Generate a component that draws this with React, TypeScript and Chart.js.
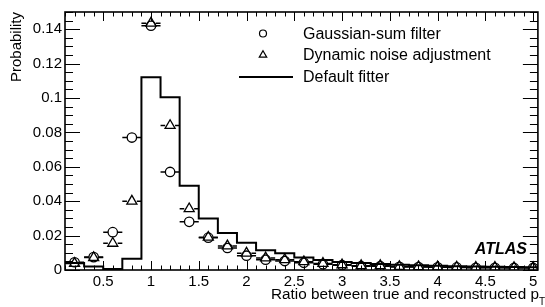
import React, { useEffect, useRef } from 'react';
import { Chart, registerables } from 'chart.js';

Chart.register(...registerables);

// ---- data ----
const binCenters = [0.2, 0.4, 0.6, 0.8, 1.0, 1.2, 1.4, 1.6, 1.8, 2.0, 2.2, 2.4, 2.6, 2.8, 3.0, 3.2, 3.4, 3.6, 3.8, 4.0, 4.2, 4.4, 4.6, 4.8, 5.0];
const gaussianSumValues = [0.0045, 0.0075, 0.022, 0.077, 0.142, 0.057, 0.028, 0.0188, 0.0128, 0.0083, 0.0060, 0.0052, 0.0042, 0.0033, 0.0028, 0.0022, 0.0022, 0.0018, 0.0017, 0.0016, 0.0015, 0.0013, 0.0013, 0.0012, 0.0012];
const dynamicNoiseValues = [0.0038, 0.0072, 0.0155, 0.040, 0.1435, 0.084, 0.0356, 0.019, 0.014, 0.0098, 0.0070, 0.0060, 0.0048, 0.0038, 0.0030, 0.0025, 0.0025, 0.0020, 0.0019, 0.0018, 0.0017, 0.0015, 0.0015, 0.0014, 0.0014];
const binEdges = [0.1, 0.3, 0.5, 0.7, 0.9, 1.1, 1.3, 1.5, 1.7, 1.9, 2.1, 2.3, 2.5, 2.7, 2.9, 3.1, 3.3, 3.5, 3.7, 3.9, 4.1, 4.3, 4.5, 4.7, 4.9, 5.1];
const defaultFitterValues = [0.004, 0.002, 0.0006, 0.0065, 0.112, 0.1005, 0.049, 0.030, 0.0215, 0.0158, 0.0115, 0.0097, 0.0072, 0.0058, 0.0046, 0.0040, 0.0035, 0.0030, 0.0027, 0.0025, 0.0022, 0.0020, 0.0019, 0.0017, 0.0016];
const xTickValues = [0.5, 1, 1.5, 2, 2.5, 3, 3.5, 4, 4.5, 5];
const xTickLabels = ['0.5', '1', '1.5', '2', '2.5', '3', '3.5', '4', '4.5', '5'];
const yTickValues = [0, 0.02, 0.04, 0.06, 0.08, 0.1, 0.12, 0.14];
const yTickLabels = ['0', '0.02', '0.04', '0.06', '0.08', '0.1', '0.12', '0.14'];
const seriesNames = ['Gaussian-sum filter', 'Dynamic noise adjustment', 'Default fitter'];
const xTitle = 'Ratio between true and reconstructed p';
const xTitleSub = 'T';
const yTitle = 'Probability';
const experimentLabel = 'ATLAS';

const FONT = '"Liberation Sans", Arial, Helvetica, sans-serif';
const BIN_HALF = 0.1;
const CIRCLE_R = 4.7;
const TRI_R = 5.8;
const PLOT_LEFT = 65;
const RIGHT_GAP = 1;
const NO_PAD = () => ({ left: 0, top: 0, right: 0, bottom: 0 });

const framePlugin = {
  id: 'rootFrame',
  beforeDatasetsDraw(chart: any) {
    const { ctx, scales } = chart;
    const xs = scales.x;
    const ys = scales.y;
    const area = chart.chartArea;
    ctx.save();
    ctx.beginPath();
    ctx.rect(area.left, area.top - 2, area.right - area.left, area.bottom - area.top + 4);
    ctx.clip();
    ctx.strokeStyle = '#000';
    ctx.lineWidth = 1.5;
    const drawBars = (vals: number[], r: number) => {
      binCenters.forEach((c, i) => {
        const px = xs.getPixelForValue(c);
        const py = ys.getPixelForValue(vals[i]);
        const l = xs.getPixelForValue(c - BIN_HALF);
        const rr = xs.getPixelForValue(c + BIN_HALF);
        ctx.beginPath();
        ctx.moveTo(l, py);
        ctx.lineTo(px - r, py);
        ctx.moveTo(px + r, py);
        ctx.lineTo(rr, py);
        ctx.stroke();
      });
    };
    drawBars(gaussianSumValues, CIRCLE_R);
    drawBars(dynamicNoiseValues, TRI_R * 0.85);
    ctx.restore();
  },
  afterDraw(chart: any) {
    const { ctx, scales } = chart;
    const xs = scales.x;
    const ys = scales.y;
    const a = chart.chartArea;
    ctx.save();
    ctx.strokeStyle = '#000';
    ctx.lineWidth = 1;
    for (let k = 1; k <= 51; k++) {
      const v = k / 10;
      if (v < xs.min - 1e-9 || v > xs.max + 1e-9) continue;
      const major = k % 5 === 0;
      const len = major ? 9 : 4.5;
      const px = Math.round(xs.getPixelForValue(v)) + 0.5;
      ctx.beginPath();
      ctx.moveTo(px, a.bottom);
      ctx.lineTo(px, a.bottom - len);
      ctx.moveTo(px, a.top);
      ctx.lineTo(px, a.top + len);
      ctx.stroke();
    }
    for (let k = 0; k <= 30; k++) {
      const v = k * 0.005;
      if (v > ys.max + 1e-9) continue;
      const major = k % 4 === 0;
      const len = major ? 15 : 8;
      const py = Math.round(ys.getPixelForValue(v)) + 0.5;
      ctx.beginPath();
      ctx.moveTo(a.left, py);
      ctx.lineTo(a.left + len, py);
      ctx.moveTo(a.right, py);
      ctx.lineTo(a.right - len, py);
      ctx.stroke();
    }
    ctx.lineWidth = 1.6;
    ctx.strokeRect(a.left, a.top, a.right - a.left, a.bottom - a.top);

    // x tick labels (positioned by the x scale)
    ctx.fillStyle = '#000';
    ctx.font = `15px ${FONT}`;
    ctx.textAlign = 'center';
    ctx.textBaseline = 'middle';
    xTickValues.forEach((v, i) => {
      ctx.fillText(xTickLabels[i], xs.getPixelForValue(v), a.bottom + 11.5);
    });

    // legend
    ctx.font = `16px ${FONT}`;
    ctx.textBaseline = 'middle';
    ctx.textAlign = 'left';
    const lx = 263;
    const tx = 303;
    const rows = [33.5, 55, 77];
    ctx.lineWidth = 1.2;
    ctx.beginPath();
    ctx.arc(lx, rows[0], 3.5, 0, Math.PI * 2);
    ctx.stroke();
    const tr = 4.3;
    ctx.beginPath();
    for (let i = 0; i < 3; i++) {
      const ang = (i * 2 * Math.PI) / 3;
      const px = lx + Math.sin(ang) * tr;
      const py = rows[1] - Math.cos(ang) * tr;
      if (i === 0) ctx.moveTo(px, py);
      else ctx.lineTo(px, py);
    }
    ctx.closePath();
    ctx.stroke();
    ctx.lineWidth = 2;
    ctx.beginPath();
    ctx.moveTo(239, rows[2]);
    ctx.lineTo(293, rows[2]);
    ctx.stroke();
    seriesNames.forEach((n, i) => ctx.fillText(n, tx, rows[i] + 1));

    ctx.font = `italic bold 16px ${FONT}`;
    ctx.textAlign = 'right';
    ctx.fillText(experimentLabel, 527, 250);

    ctx.font = `15.3px ${FONT}`;
    ctx.textAlign = 'left';
    ctx.textBaseline = 'alphabetic';
    const w = ctx.measureText(xTitle).width;
    ctx.font = `10px ${FONT}`;
    const wt = ctx.measureText(xTitleSub).width;
    const startX = 545 - wt - w;
    ctx.font = `15.3px ${FONT}`;
    ctx.fillText(xTitle, startX, 299);
    ctx.font = `10px ${FONT}`;
    ctx.fillText(xTitleSub, startX + w, 305);
    ctx.restore();
  },
};

export default function App() {
  const canvasRef = useRef<HTMLCanvasElement | null>(null);

  useEffect(() => {
    document.body.style.margin = '0';
    const canvas = canvasRef.current;
    if (!canvas) return;
    Chart.defaults.font.family = FONT;
    const histData = binEdges.map((e, i) => ({
      x: e,
      y: defaultFitterValues[Math.min(i, defaultFitterValues.length - 1)],
    }));
    const chart = new Chart(canvas, {
      type: 'scatter',
      data: {
        datasets: [
          {
            label: seriesNames[0],
            data: binCenters.map((x, i) => ({ x, y: gaussianSumValues[i] })),
            pointStyle: 'circle',
            pointRadius: CIRCLE_R,
            borderColor: '#000',
            backgroundColor: 'rgba(0,0,0,0)',
            borderWidth: 1.3,
            showLine: false,
          },
          {
            label: seriesNames[1],
            data: binCenters.map((x, i) => ({ x, y: dynamicNoiseValues[i] })),
            pointStyle: 'triangle',
            pointRadius: TRI_R,
            borderColor: '#000',
            backgroundColor: 'rgba(0,0,0,0)',
            borderWidth: 1.3,
            showLine: false,
          },
          {
            label: seriesNames[2],
            type: 'line',
            data: histData,
            stepped: true,
            borderColor: '#000',
            borderWidth: 2,
            pointRadius: 0,
            fill: false,
            showLine: true,
          } as any,
        ],
      },
      options: {
        animation: false,
        responsive: false,
        devicePixelRatio: 1,
        events: [],
        layout: { padding: { top: 12, right: RIGHT_GAP, left: 0, bottom: 0 } },
        plugins: { legend: { display: false }, tooltip: { enabled: false } },
        scales: {
          x: {
            type: 'linear',
            min: 0.1,
            max: 5.05,
            grid: { display: false, drawTicks: false },
            border: { display: false },
            ticks: { display: false },
            afterBuildTicks: (s: any) => {
              s.ticks = xTickValues.map((v) => ({ value: v }));
            },
            afterFit: (s: any) => {
              s.height = 37;
              s.paddingLeft = 0;
              s.paddingRight = 0;
              s.getPadding = NO_PAD;
            },
          },
          y: {
            type: 'linear',
            min: 0,
            max: 0.15,
            grid: { display: false, drawTicks: false },
            border: { display: false },
            ticks: {
              color: '#000',
              font: { size: 15, family: FONT },
              padding: 3,
              autoSkip: false,
              callback: (_v: any, i: number) => yTickLabels[i],
            },
            title: {
              display: true,
              text: yTitle,
              align: 'end',
              color: '#000',
              font: { size: 15, family: FONT },
              padding: { top: 8, bottom: 0 },
            },
            afterBuildTicks: (s: any) => {
              s.ticks = yTickValues.map((v) => ({ value: v }));
            },
            afterFit: (s: any) => {
              s.width = PLOT_LEFT;
              s.getPadding = NO_PAD;
            },
          },
        },
      } as any,
      plugins: [framePlugin],
    });
    return () => chart.destroy();
  }, []);

  return (
    <div style={{ width: 545, height: 307 }}>
      <canvas ref={canvasRef} width={545} height={307} style={{ display: 'block' }} />
    </div>
  );
}
